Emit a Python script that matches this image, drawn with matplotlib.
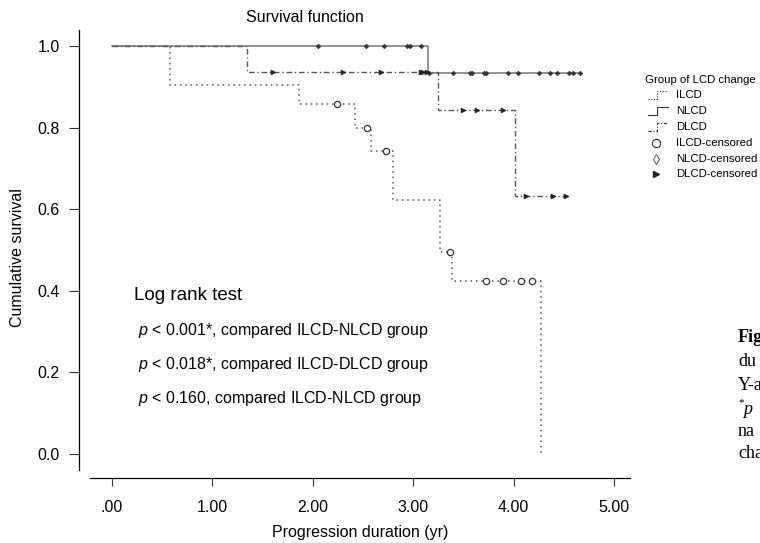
import matplotlib
matplotlib.use('Agg')
import matplotlib.pyplot as plt
import numpy as np

plt.rcParams['font.family'] = ['Liberation Sans', 'DejaVu Sans']
plt.rcParams['mathtext.fontset'] = 'custom'
plt.rcParams['mathtext.it'] = 'Liberation Sans:italic'
plt.rcParams['mathtext.rm'] = 'Liberation Sans'

# step curves (time, cumulative survival)
ilcd_time = [0.0, 0.58, 1.86, 2.42, 2.58, 2.80, 3.27, 3.39, 4.27]
ilcd_surv = [1.0, 0.905, 0.857, 0.800, 0.743, 0.623, 0.495, 0.424, 0.0]
ilcd_cens = [2.24, 2.54, 2.73, 3.37, 3.73, 3.89, 4.07, 4.18]

nlcd_time = [0.0, 3.15, 4.66]
nlcd_surv = [1.0, 0.934, 0.934]
nlcd_cens = [2.05, 2.53, 2.71, 2.94, 2.97, 3.08, 3.16, 3.40, 3.57, 3.59,
             3.71, 3.73, 3.94, 4.04, 4.25, 4.36, 4.43, 4.55, 4.59, 4.66]

dlcd_time = [0.0, 1.34, 3.25, 4.01, 4.52]
dlcd_surv = [1.0, 0.936, 0.843, 0.632, 0.632]
dlcd_cens = [1.60, 2.30, 2.68, 3.08, 3.10, 3.14, 3.50, 3.64, 3.89, 4.12, 4.39, 4.52]

x_ticks = [0, 1, 2, 3, 4, 5]
x_tick_labels = ['.00', '1.00', '2.00', '3.00', '4.00', '5.00']
y_ticks = [0.0, 0.2, 0.4, 0.6, 0.8, 1.0]
y_tick_labels = ['0.0', '0.2', '0.4', '0.6', '0.8', '1.0']

legend_labels = ['ILCD', 'NLCD', 'DLCD', 'ILCD-censored', 'NLCD-censored', 'DLCD-censored']
test_lines = ['$p$ < 0.001*, compared ILCD-NLCD group',
              '$p$ < 0.018*, compared ILCD-DLCD group',
              '$p$ < 0.160, compared ILCD-NLCD group']
caption_lines = ['du', 'Y-a', 'na', 'cha']

W, H = 760, 543
LINE = '#555555'
FS = 11.5


def surv_at(times, survs, t):
    idx = np.searchsorted(times, t, side='right') - 1
    return [survs[i] for i in idx]


fig = plt.figure(figsize=(W / 100, H / 100), dpi=100)

# axes in pixel terms: left 79, right 630, top 30, bottom 478
ax = fig.add_axes([79 / W, 1 - 478 / H, (630 - 79) / W, (478 - 30) / H])
ax.set_xlim((79 - 112) / 100.4, (630 - 112) / 100.4)
ax.set_ylim((454 - 478) / 408, (454 - 30) / 408)

ax.step(ilcd_time, ilcd_surv, where='post', color=LINE, lw=1.1, ls=(0, (1, 2.5)))
ax.step(nlcd_time, nlcd_surv, where='post', color='#777777', lw=1.1, ls='-')
ax.step(dlcd_time, dlcd_surv, where='post', color=LINE, lw=1.0, ls=(0, (4, 2, 1, 2)))

ax.plot(ilcd_cens, surv_at(ilcd_time, ilcd_surv, ilcd_cens), ls='none', marker='o',
        ms=4.5, mfc='white', mec='#333333', mew=0.9)
ax.plot(nlcd_cens, surv_at(nlcd_time, nlcd_surv, nlcd_cens), ls='none', marker='D',
        ms=2.3, mfc='#333333', mec='#333333', mew=0.5)
ax.plot(dlcd_cens, surv_at(dlcd_time, dlcd_surv, dlcd_cens), ls='none', marker='>',
        ms=3.5, mfc='#222222', mec='#222222', mew=0.5)

for s in ['top', 'right']:
    ax.spines[s].set_visible(False)
ax.spines['left'].set_bounds((454 - 470) / 408, (454 - 30) / 408)
ax.spines['bottom'].set_bounds((90 - 112) / 100.4, (630 - 112) / 100.4)
ax.spines['left'].set_linewidth(0.9)
ax.spines['bottom'].set_linewidth(0.9)
ax.set_xticks(x_ticks)
ax.set_xticklabels(x_tick_labels, fontsize=FS)
ax.set_yticks(y_ticks)
ax.set_yticklabels(y_tick_labels, fontsize=FS)
ax.tick_params(axis='y', direction='out', length=7, width=0.8, color='#333333', pad=7)
ax.tick_params(axis='x', direction='out', length=6, width=0.8, color='#333333', pad=10)
ax.patch.set_visible(False)

fig.text(360 / W, 1 - 533 / H, 'Progression duration (yr)', fontsize=FS, ha='center', va='center')
fig.text(18 / W, 1 - 258 / H, 'Cumulative survival', fontsize=FS, rotation=90,
         ha='center', va='center')
fig.text(305 / W, 1 - 17 / H, 'Survival function', fontsize=FS, ha='center', va='center')

# log rank text block
fig.text(134 / W, 1 - 296 / H, 'Log rank test', fontsize=13.5, va='center')
for i, t in enumerate(test_lines):
    fig.text(138 / W, 1 - (330 + 34.5 * i) / H, t, fontsize=FS, va='center')

# legend (drawn in pixel space)
lg = fig.add_axes([0, 0, 1, 1])
lg.set_xlim(0, W)
lg.set_ylim(H, 0)
lg.axis('off')
lg.text(645, 80, 'Group of LCD change', fontsize=8.2, va='center')
row_y = [95, 111, 127, 143, 159, 174]
styles = [(0, (1, 1.5)), '-', (0, (3, 1.5, 1, 1.5))]
for yy, ls in zip(row_y[:3], styles):
    lg.plot([648, 657, 657, 668], [yy + 4, yy + 4, yy - 4, yy - 4], color='#333333', lw=0.8, ls=ls)
lg.plot(656, row_y[3], marker='o', ms=6, mfc='white', mec='#333333', mew=0.8)
lg.plot(656, row_y[4], marker='d', ms=5, mfc='white', mec='#555555', mew=0.7)
lg.plot(656, row_y[5], marker='>', ms=5, mfc='#222222', mec='#222222')
for yy, lab in zip(row_y, legend_labels):
    lg.text(676, yy, lab, fontsize=8.2, va='center')

# caption fragment cut off at the right edge
serif = ['Liberation Serif', 'DejaVu Serif']
lg.text(738, 338, 'Fig', fontsize=13, fontweight='bold', family=serif, va='center')
lg.text(738, 362, caption_lines[0], fontsize=13, family=serif, va='center')
lg.text(738, 385, caption_lines[1], fontsize=13, family=serif, va='center')
lg.text(738, 403, '*', fontsize=8, family=serif, va='center')
lg.text(743, 410, 'p', fontsize=13, family=serif, style='italic', va='center')
lg.text(738, 431, caption_lines[2], fontsize=13, family=serif, va='center')
lg.text(738, 454, caption_lines[3], fontsize=13, family=serif, va='center')

fig.savefig('out.png', dpi=100)
